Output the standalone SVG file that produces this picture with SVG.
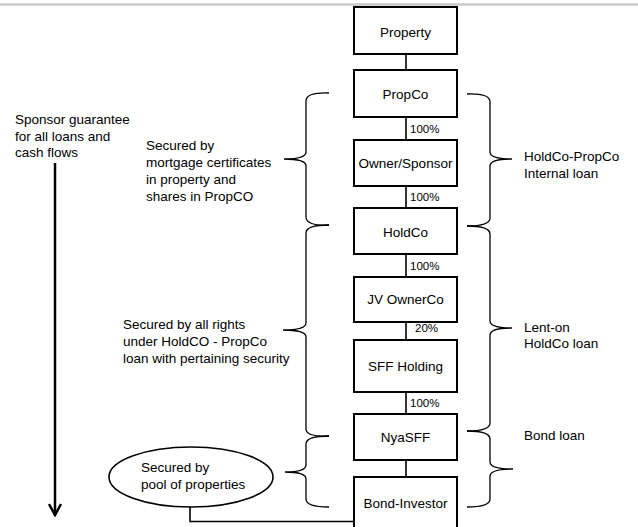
<svg xmlns="http://www.w3.org/2000/svg" width="638" height="527" viewBox="0 0 638 527">
<style>
.box{fill:#fff;stroke:#000;stroke-width:2}
.t{font-family:"Liberation Sans",Arial,sans-serif;font-size:13.5px;fill:#000}
.c{text-anchor:middle}
.p{font-family:"Liberation Sans",Arial,sans-serif;font-size:11.5px;fill:#000}
.ln{stroke:#000;stroke-width:1.6;fill:none}
.br{stroke:#000;stroke-width:1.3;fill:none}
</style>
<defs>
<marker id="chev" markerWidth="14" markerHeight="14" refX="12" refY="7" orient="auto" markerUnits="userSpaceOnUse" viewBox="0 0 14 14">
<path d="M1,1 L12,7 L1,13" fill="none" stroke="#000" stroke-width="2.5"/>
</marker>
</defs>
<rect width="638" height="527" fill="#fff"/>
<line x1="0" y1="4.5" x2="638" y2="4.5" stroke="#c8c8c8" stroke-width="2.5"/>

<g id="connectors">
<line class="ln" x1="406" y1="54" x2="406" y2="70"/>
<line class="ln" x1="406" y1="117" x2="406" y2="140"/>
<line class="ln" x1="406" y1="186" x2="406" y2="208"/>
<line class="ln" x1="406" y1="254" x2="406" y2="277"/>
<line class="ln" x1="406" y1="322" x2="406" y2="340"/>
<line class="ln" x1="406" y1="392" x2="406" y2="414"/>
<line class="ln" x1="406" y1="460" x2="406" y2="477"/>
<path class="ln" d="M190,507 L190,521.5 L354,521.5"/>
<text class="p" x="410" y="133">100%</text>
<text class="p" x="410" y="201">100%</text>
<text class="p" x="410" y="270">100%</text>
<text class="p" x="415" y="332">20%</text>
<text class="p" x="410" y="407">100%</text>
<line x1="55" y1="163" x2="55" y2="515" stroke="#000" stroke-width="2.5" marker-end="url(#chev)"/>
</g>

<g id="braces-left">
<path class="br" d="M329,93 Q306,92 306,101 L306,152 Q306,159 284,159 Q306,159 306,166 L306,217 Q306,226 329,225"/>
<path class="br" d="M329,225 Q306,225 306,233 L306,323 Q306,330 283,330 Q306,330 306,337 L306,429 Q306,437 329,436"/>
<path class="br" d="M329,436 Q306,436 306,444 L306,465 Q306,472 285,472 Q306,472 306,479 L306,499 Q306,507 329,507"/>
</g>
<g id="braces-right">
<path class="br" d="M467,94 Q490,93 490,102 L490,152 Q490,159 512,159 Q490,159 490,166 L490,218 Q490,226 467,226"/>
<path class="br" d="M467,226 Q490,226 490,234 L490,321 Q490,328 512,328 Q490,328 490,335 L490,423 Q490,431 467,431"/>
<path class="br" d="M467,431 Q490,431 490,439 L490,462 Q490,469 513,469 Q490,469 490,476 L490,499 Q490,507 467,507"/>
</g>

<g id="property"><rect class="box" x="354" y="7" width="103" height="47"/><text class="t c" x="405.5" y="37">Property</text></g>
<g id="propco"><rect class="box" x="354" y="70" width="103" height="47"/><text class="t c" x="405.5" y="99">PropCo</text></g>
<g id="owner"><rect class="box" x="354" y="140" width="103" height="46"/><text class="t c" x="405.5" y="168">Owner/Sponsor</text></g>
<g id="holdco"><rect class="box" x="354" y="208" width="103" height="46"/><text class="t c" x="405.5" y="237">HoldCo</text></g>
<g id="jvownerco"><rect class="box" x="354" y="277" width="103" height="45"/><text class="t c" x="405.5" y="304">JV OwnerCo</text></g>
<g id="sffholding"><rect class="box" x="354" y="340" width="103" height="52"/><text class="t c" x="405.5" y="371">SFF Holding</text></g>
<g id="nyasff"><rect class="box" x="354" y="414" width="103" height="46"/><text class="t c" x="405.5" y="442">NyaSFF</text></g>
<g id="bondinvestor"><rect class="box" x="354" y="477" width="103" height="60"/><text class="t c" x="405.5" y="508">Bond-Investor</text></g>

<g id="pool"><ellipse cx="191" cy="477" rx="82" ry="30" fill="#fff" stroke="#000" stroke-width="1.6"/>
<text class="t" x="141" y="472">Secured by</text><text class="t" x="141" y="489">pool of properties</text></g>

<g id="labels">
<text class="t" x="15" y="124">Sponsor guarantee</text>
<text class="t" x="15" y="141">for all loans and</text>
<text class="t" x="15" y="157">cash flows</text>
<text class="t" x="146" y="150">Secured by</text>
<text class="t" x="146" y="167">mortgage certificates</text>
<text class="t" x="146" y="184">in property and</text>
<text class="t" x="146" y="201">shares in PropCO</text>
<text class="t" x="123" y="329">Secured by all rights</text>
<text class="t" x="123" y="346">under HoldCO - PropCo</text>
<text class="t" x="123" y="363">loan with pertaining security</text>
<text class="t" x="524" y="161">HoldCo-PropCo</text>
<text class="t" x="524" y="178">Internal loan</text>
<text class="t" x="524" y="332">Lent-on</text>
<text class="t" x="524" y="348">HoldCo loan</text>
<text class="t" x="524" y="440">Bond loan</text>
</g>
</svg>
